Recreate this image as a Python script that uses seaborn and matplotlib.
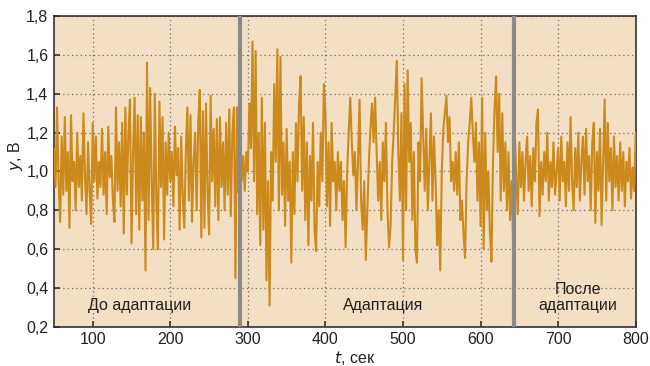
import numpy as np
import pandas as pd
import matplotlib
matplotlib.use('Agg')
import matplotlib.pyplot as plt
import seaborn as sns

# отсчёты сигнала (шаг 2 сек)
t_start = [50, 292, 644]
step = 2

before = [1.12, 0.92, 1.33, 0.95, 0.74, 1.18, 0.88, 1.28, 0.90, 1.10,
          0.71, 1.29, 0.95, 1.05, 0.80, 1.20, 0.92, 1.08, 0.85, 1.30,
          0.98, 0.78, 1.15, 0.90, 0.73, 1.25, 0.95, 1.18, 0.86, 1.05,
          0.92, 1.22, 0.88, 1.10, 0.78, 1.23, 0.97, 1.08, 0.85, 0.74,
          1.33, 0.90, 1.15, 0.82, 1.25, 0.68, 1.33, 0.88, 1.20, 1.37,
          0.63, 1.10, 1.38, 0.78, 1.29, 0.70, 1.28, 0.85, 1.20, 0.49,
          1.56, 0.75, 1.43, 0.95, 0.60, 1.40, 0.85, 0.60, 1.36, 0.92,
          1.28, 0.65, 1.15, 0.88, 1.20, 0.95, 1.10, 0.82, 1.23, 0.98,
          1.12, 0.70, 1.18, 0.88, 0.71, 1.10, 1.33, 0.85, 1.29, 0.74,
          1.05, 1.20, 0.80, 1.25, 1.42, 0.66, 1.31, 0.71, 1.35, 0.90,
          0.675, 1.39, 0.95, 1.22, 0.82, 1.27, 0.75, 1.28, 0.92, 1.15,
          0.80, 1.25, 0.88, 1.32, 0.77, 1.20, 1.33, 0.45, 1.33, 0.89,
          1.02]

adaptation = [0.95, 1.08, 0.90, 1.10, 1.00, 1.35, 1.12, 1.67, 0.95, 1.62,
              0.78, 1.20, 0.62, 1.38, 0.70, 1.25, 0.44, 0.95, 0.31, 1.10,
              0.85, 1.45, 1.05, 1.63, 0.80, 1.59, 0.88, 1.15, 0.72, 1.22,
              0.85, 1.05, 0.53, 1.10, 0.78, 1.25, 0.95, 1.35, 1.49, 0.90,
              1.28, 0.75, 1.15, 0.62, 1.08, 0.85, 1.25, 0.70, 0.59, 1.05,
              0.82, 1.20, 0.95, 1.45, 1.30, 0.82, 1.15, 0.72, 1.25, 0.95,
              1.05, 0.80, 1.10, 0.90, 1.05, 0.75, 0.95, 0.61, 1.00, 1.20,
              1.38, 1.15, 0.98, 1.10, 0.80, 1.05, 1.37, 0.85, 0.70, 0.95,
              0.545, 0.80, 1.05, 1.22, 1.35, 1.15, 1.38, 1.10, 0.85, 1.05,
              0.75, 1.15, 0.95, 1.25, 0.80, 0.61, 0.72, 1.05, 1.20, 1.38,
              1.57, 1.10, 0.85, 1.30, 0.545, 1.45, 0.80, 1.52, 1.05, 1.25,
              0.75, 1.10, 0.60, 0.53, 1.15, 0.95, 1.48, 1.20, 0.90, 1.22,
              0.80, 1.05, 1.30, 0.85, 1.18, 0.95, 0.62, 0.80, 0.49, 1.00,
              1.22, 1.30, 1.39, 1.15, 1.28, 0.95, 1.05, 0.90, 1.10, 0.88,
              1.15, 0.75, 0.85, 0.68, 0.555, 0.95, 1.15, 1.25, 1.38, 1.20,
              1.05, 1.25, 0.85, 1.15, 0.72, 1.38, 0.60, 1.20, 0.80, 1.00,
              0.70, 0.535, 1.05, 1.32, 1.49, 1.10, 1.40, 0.85, 1.30, 0.90,
              1.15, 0.80, 1.10, 0.75, 0.95, 0.63]

after = [1.20, 0.98, 0.78, 1.15, 0.92, 1.10, 0.85, 1.05, 1.18, 0.90,
         1.08, 0.82, 1.12, 0.95, 1.25, 1.32, 0.77, 1.05, 0.88, 1.10,
         0.95, 1.20, 0.85, 1.05, 0.92, 1.15, 0.88, 1.00, 1.12, 0.85,
         1.18, 0.95, 1.05, 0.82, 1.15, 0.90, 1.28, 0.95, 0.80, 1.12,
         0.92, 1.20, 0.85, 1.05, 1.18, 0.88, 1.22, 0.95, 1.08, 0.80,
         1.15, 1.25, 0.735, 1.10, 0.90, 1.22, 0.725, 1.05, 1.37, 0.85,
         1.25, 0.95, 1.12, 0.80, 1.18, 0.92, 1.08, 0.85, 1.15, 0.90,
         1.10, 0.82, 1.05, 0.95, 1.12, 0.86, 1.02, 0.90, 1.20]

boundaries = [290, 643]
x_ticks = [100, 200, 300, 400, 500, 600, 700, 800]
y_ticks = [0.2, 0.4, 0.6, 0.8, 1.0, 1.2, 1.4, 1.6, 1.8]
phase_labels = ['До адаптации', 'Адаптация', 'После\nадаптации']
phase_pos = [(160, 0.31), (475, 0.31), (726, 0.35)]

segments = [before, adaptation, after]
t = np.concatenate([s0 + step * np.arange(len(seg)) for s0, seg in zip(t_start, segments)])
y = np.concatenate(segments)
df = pd.DataFrame({'t': t, 'y': y})

sns.set_style('ticks')
plt.rcParams['font.family'] = ['Liberation Sans', 'DejaVu Sans']
fs = 11.5

fig = plt.figure(figsize=(6.5, 3.66), dpi=100)
ax = fig.add_axes([0.083, 0.107, 0.895, 0.849])
ax.set_facecolor('#f3dfc3')

sns.lineplot(data=df, x='t', y='y', ax=ax, color='#cc8a1c', linewidth=1.5, zorder=3)

for b in boundaries:
    ax.axvline(b, color='#8a8a8a', linewidth=3.0, zorder=4)

ax.set_xlim(50, 800)
ax.set_ylim(0.2, 1.8)
ax.set_xticks(x_ticks)
ax.set_yticks(y_ticks)
ax.set_yticklabels([f'{v:.1f}'.replace('.', ',') for v in y_ticks])
ax.grid(True, linestyle=(0, (1, 2.5)), color='#6e6e6e', linewidth=0.9, zorder=1)
ax.tick_params(direction='in', length=4, width=1.2, labelsize=fs, colors='#333333',
               labelcolor='#222222', pad=4)

for s in ax.spines.values():
    s.set_color('#333333')
    s.set_linewidth(1.2)

ax.set_xlabel('')
ax.set_ylabel('')
fig.text(0.545, -0.004, '$t$, сек', ha='center', va='bottom', fontsize=fs, color='#222222')
fig.text(0.024, 0.575, '$y$, В', ha='center', va='center', rotation=90, fontsize=fs,
         color='#222222')

for txt, (px, py) in zip(phase_labels, phase_pos):
    ax.text(px, py, txt, ha='center', va='center', fontsize=fs, color='#222222',
            linespacing=1.05, zorder=5)

fig.savefig('out.png', dpi=100)
